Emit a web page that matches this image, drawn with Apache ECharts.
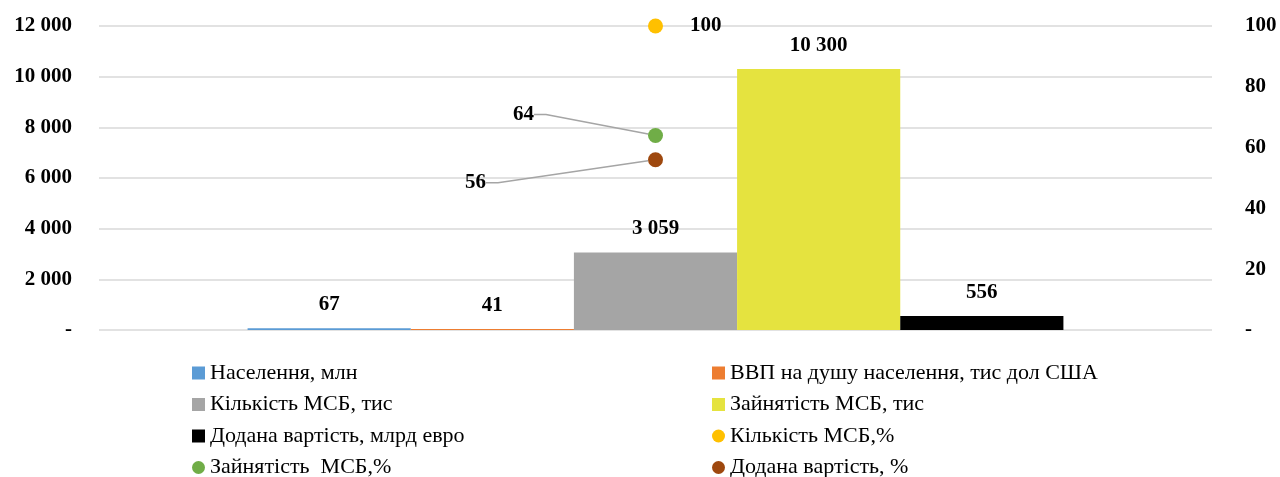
<!DOCTYPE html>
<html>
<head>
<meta charset="utf-8">
<script src="https://cdn.jsdelivr.net/npm/echarts@6/dist/echarts.min.js"></script>
<style>
  html, body { margin: 0; padding: 0; background: #fff; }
  #chart { width: 1280px; height: 477px; }
</style>
</head>
<body>
<div id="chart"></div>
<script>
// дані з малюнка
var categories = ['МСБ'];
var barNames = ['Населення, млн', 'ВВП на душу населення, тис дол США', 'Кількість МСБ, тис', 'Зайнятість МСБ, тис', 'Додана вартість, млрд евро'];
var barValues = [67, 41, 3059, 10300, 556];
var barColors = ['#5B9BD5', '#ED7D31', '#A5A5A5', '#E5E33F', '#000000'];
var pointNames = ['Кількість МСБ,%', 'Зайнятість  МСБ,%', 'Додана вартість, %'];
var pointValues = [100, 64, 56];
var pointColors = ['#FFC000', '#70AD47', '#9E480E'];
var leftTicks = [0, 2000, 4000, 6000, 8000, 10000, 12000];
var rightTicks = [0, 20, 40, 60, 80, 100];

var font = 'Liberation Serif';

function fmt(v) {
	if (v == 0) return '-';
	return String(v).replace(/\B(?=(\d{3})+(?!\d))/g, ' ');
}

var series = [];
for (var i = 0; i < barNames.length; i++) {
	series.push({
		name: barNames[i],
		type: 'bar',
		yAxisIndex: 0,
		data: [barValues[i]],
		barGap: '0%',
		barCategoryGap: '26.7%',
		itemStyle: { color: barColors[i] },
		label: {
			show: true,
			position: 'top',
			distance: 13,
			formatter: function(p) { return fmt(p.value); },
			fontFamily: font,
			fontWeight: 'bold',
			fontSize: 21,
			color: '#000'
		}
	});
}
// зсув підписів точок
var pointShift = [[0, 0], [-132, -21], [-180, 23]];
for (var j = 0; j < pointNames.length; j++) {
	var moved = j > 0;
	series.push({
		name: pointNames[j],
		type: 'scatter',
		yAxisIndex: 1,
		data: [pointValues[j]],
		symbol: 'circle',
		symbolSize: 15,
		z: 5,
		itemStyle: { color: pointColors[j], opacity: 1 },
		label: {
			show: true,
			position: moved ? 'inside' : 'right',
			distance: 27,
			fontFamily: font,
			fontWeight: 'bold',
			fontSize: 21,
			color: '#000'
		},
		labelLayout: moved ? { dx: pointShift[j][0], dy: pointShift[j][1] } : null,
		labelLine: {
			show: moved,
			length2: 12,
			lineStyle: { color: '#A5A5A5', width: 1.5, opacity: 1 }
		}
	});
}

var legendText = { fontFamily: font, fontSize: 22, color: '#000', lineHeight: 20 };
function legendItem(name, isPoint) {
	return { name: name, icon: isPoint ? 'circle' : 'rect' };
}

var myChart = echarts.init(document.getElementById('chart'));
var options = {
	animation: false,
	grid: { left: 99, right: 68, top: 26, bottom: 147, containLabel: false, outerBoundsMode: 'none' },
	legend: [{
		orient: 'vertical',
		left: 192,
		top: 362,
		height: 160,
		padding: 0,
		itemWidth: 13,
		itemHeight: 13,
		itemGap: 9.5,
		textStyle: legendText,
		data: [legendItem(barNames[0]), legendItem(barNames[2]), legendItem(barNames[4]), legendItem(pointNames[1], true)]
	}, {
		orient: 'vertical',
		left: 712,
		top: 362,
		height: 160,
		padding: 0,
		itemWidth: 13,
		itemHeight: 13,
		itemGap: 9.5,
		textStyle: legendText,
		data: [legendItem(barNames[1]), legendItem(barNames[3]), legendItem(pointNames[0], true), legendItem(pointNames[2], true)]
	}],
	xAxis: {
		type: 'category',
		data: categories,
		axisLine: { show: false },
		axisTick: { show: false },
		axisLabel: { show: false }
	},
	yAxis: [{
		type: 'value',
		min: leftTicks[0],
		max: leftTicks[leftTicks.length - 1],
		interval: leftTicks[1] - leftTicks[0],
		axisLine: { show: false },
		axisTick: { show: false },
		splitLine: { lineStyle: { color: '#D9D9D9', width: 1.5 } },
		axisLabel: {
			margin: 27,
			formatter: fmt,
			fontFamily: font,
			fontWeight: 'bold',
			fontSize: 21,
			color: '#000'
		}
	}, {
		type: 'value',
		position: 'right',
		min: rightTicks[0],
		max: rightTicks[rightTicks.length - 1],
		interval: rightTicks[1] - rightTicks[0],
		axisLine: { show: false },
		axisTick: { show: false },
		splitLine: { show: false },
		axisLabel: {
			margin: 33,
			formatter: fmt,
			fontFamily: font,
			fontWeight: 'bold',
			fontSize: 21,
			color: '#000'
		}
	}],
	series: series
};
myChart.setOption(options);
</script>
</body>
</html>
